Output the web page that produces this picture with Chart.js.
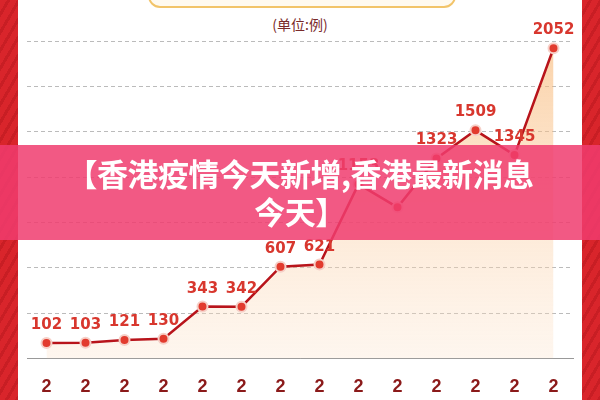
<!DOCTYPE html>
<html><head><meta charset="utf-8">
<script src="https://cdn.jsdelivr.net/npm/chart.js@4/dist/chart.umd.min.js"></script>
<style>
body{margin:0;width:600px;height:400px;overflow:hidden;background:#fff;font-family:"Noto Sans CJK SC",sans-serif}
#wrap{position:absolute;left:0;top:0;width:600px;height:400px;
 background:repeating-linear-gradient(120deg,#d9252b 0 6px,#c81e24 6px 9px)}
#inner{position:absolute;left:18px;top:0;width:564px;height:400px;background:#fff}
#box{position:absolute;left:148px;top:-20px;width:304px;height:24px;border:2px solid #f2c46a;border-radius:12px;background:#fffaf0}
#unit{position:absolute;left:0;width:600px;top:14px;text-align:center;color:#7a2a2a;font-size:14px}
#c{position:absolute;left:0;top:0}
#banner{position:absolute;left:0;top:145px;width:600px;height:95px;background:rgba(240,60,110,0.85);
 color:#fff;font-size:31px;font-weight:bold;text-align:center;line-height:38px;padding-top:9px;box-sizing:border-box;letter-spacing:-0.5px}
</style></head><body>
<div id="wrap"><div id="inner"></div></div>
<div id="box"></div>
<div id="unit">(单位:例)</div>
<canvas id="c" width="600" height="408"></canvas>
<div id="banner">【香港疫情今天新增,香港最新消息<br>今天】</div>
<script>
const days = ['2','2','2','2','2','2','2','2','2','2','2','2','2','2'];
const cases = [102, 103, 121, 130, 343, 342, 607, 621, 1153, 1000, 1323, 1509, 1345, 2052];

const labelPlugin = {
  id: 'pointLabels',
  afterDatasetsDraw(chart) {
    const { ctx } = chart;
    const meta = chart.getDatasetMeta(0);
    ctx.save();
    ctx.font = 'bold 15px "DejaVu Sans", sans-serif';
    ctx.fillStyle = '#d8372e';
    ctx.textAlign = 'center';
    meta.data.forEach((p, i) => {
      if (i === 9) return;
      ctx.fillText(cases[i], p.x, p.y - 14);
    });
    ctx.restore();
  }
};

new Chart(document.getElementById('c'), {
  type: 'line',
  data: {
    labels: days,
    datasets: [{
      data: cases,
      borderColor: '#b8141b',
      borderWidth: 2.5,
      tension: 0,
      pointRadius: 5,
      pointBackgroundColor: '#e23b2e',
      pointBorderColor: '#f6d0c8',
      pointBorderWidth: 2,
      fill: true,
      backgroundColor: (ctx) => {
        const a = ctx.chart.chartArea;
        if (!a) return 'rgba(250,200,140,0.3)';
        const g = ctx.chart.ctx.createLinearGradient(0, a.top, 0, a.bottom);
        g.addColorStop(0, 'rgba(248,180,110,0.6)');
        g.addColorStop(1, 'rgba(252,225,200,0.3)');
        return g;
      }
    }]
  },
  options: {
    responsive: false,
    animation: false,
    layout: { padding: { left: 27, right: 27, top: 41, bottom: 0 } },
    plugins: { legend: { display: false }, tooltip: { enabled: false } },
    scales: {
      x: {
        offset: true,
        grid: { display: false },
        border: { color: '#999' },
        ticks: { color: '#8b1a1a', font: { size: 18, weight: 'bold' }, padding: 10 }
      },
      y: {
        min: 0, max: 2100,
        ticks: { display: false, stepSize: 300 },
        grid: { color: '#bbb', drawTicks: false },
        border: { display: false, dash: [4, 3] }
      }
    }
  },
  plugins: [labelPlugin]
});
</script>
</body></html>
